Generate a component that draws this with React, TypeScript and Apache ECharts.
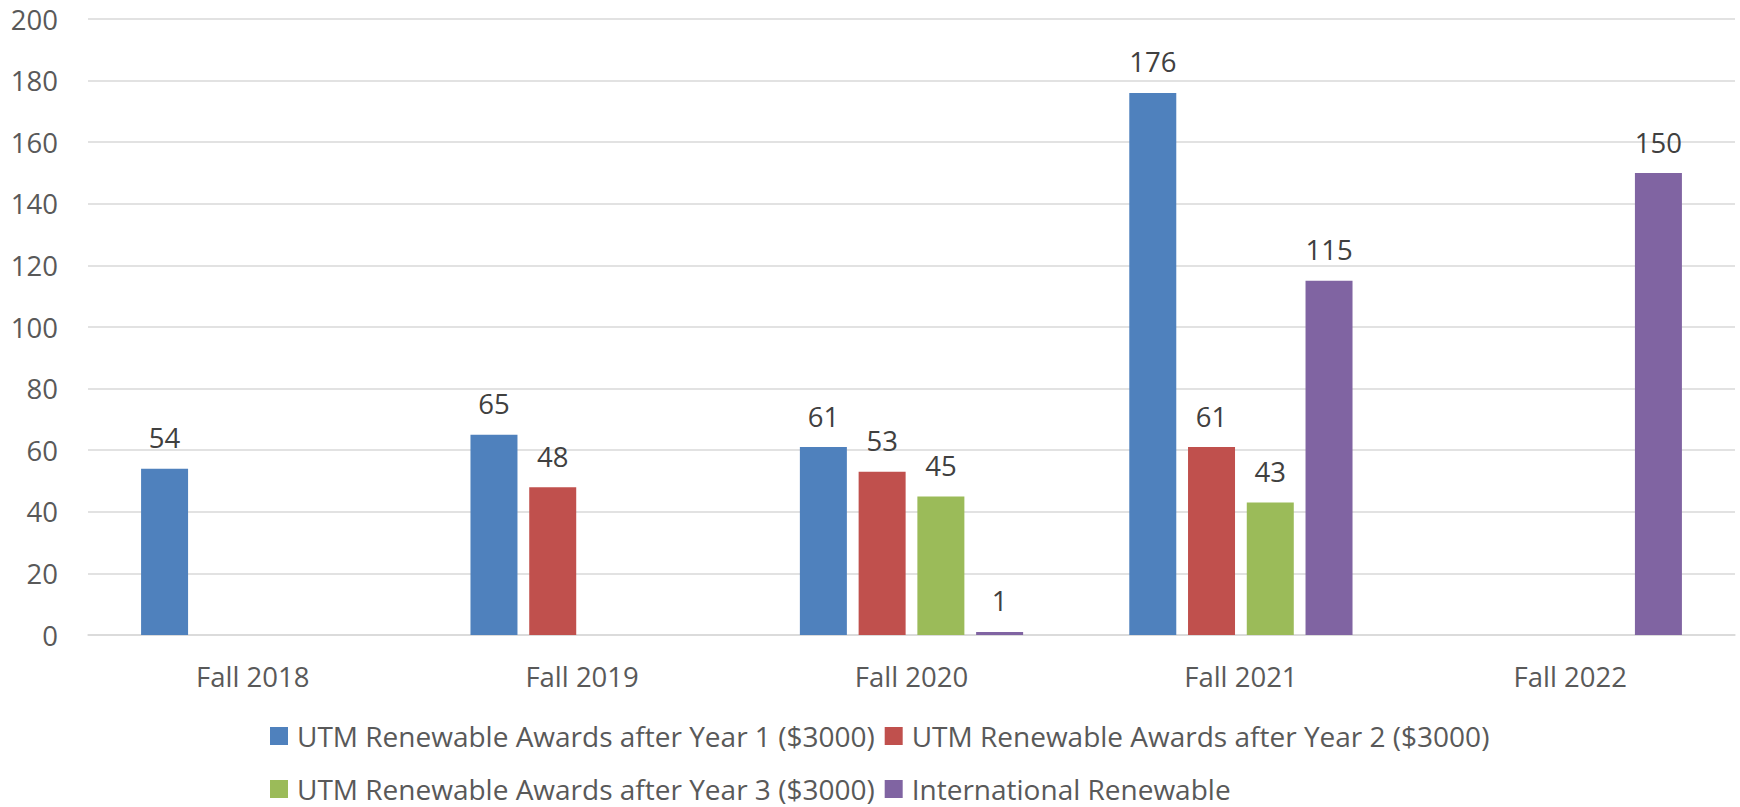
import React, { useEffect, useRef } from "react";
import * as echarts from "echarts";

const categories = ["Fall 2018", "Fall 2019", "Fall 2020", "Fall 2021", "Fall 2022"];
const seriesNames = [
  "UTM Renewable Awards after Year 1 ($3000)",
  "UTM Renewable Awards after Year 2 ($3000)",
  "UTM Renewable Awards after Year 3 ($3000)",
  "International Renewable",
];
const year1 = [54, 65, 61, 176, null];
const year2 = [null, 48, 53, 61, null];
const year3 = [null, null, 45, 43, null];
const international = [null, null, 1, 115, 150];
const colors = ["#4F81BD", "#C0504D", "#9BBB59", "#8064A2"];
const yTicks = { min: 0, max: 200, interval: 20 };

const FONT = "Open Sans";

export default function App() {
  const ref = useRef<HTMLDivElement>(null);
  useEffect(() => {
    if (!ref.current) return;
    const chart = echarts.init(ref.current, null, { renderer: "svg" });
    const values = [year1, year2, year3, international];
    const legendCommon = {
      left: 270,
      itemWidth: 18,
      itemHeight: 18,
      itemGap: 10,
      icon: "rect",
      padding: 0,
      textStyle: {
        fontFamily: FONT,
        fontSize: 28,
        lineHeight: 28,
        color: "#595959",
        padding: [0, 0, 0, 4],
      },
    };
    chart.setOption({
      animation: false,
      backgroundColor: "#ffffff",
      textStyle: { fontFamily: FONT },
      grid: { left: 88, right: 5, top: 19, bottom: 172, containLabel: false },
      legend: [
        { ...legendCommon, top: 722, data: [seriesNames[0], seriesNames[1]] },
        { ...legendCommon, top: 775, data: [seriesNames[2], seriesNames[3]] },
      ],
      xAxis: {
        type: "category",
        data: categories,
        axisLine: { show: true, lineStyle: { color: "#D9D9D9", width: 1.5 } },
        axisTick: { show: false },
        axisLabel: {
          fontFamily: FONT,
          fontSize: 27.5,
          color: "#595959",
          margin: 26,
          lineHeight: 30,
        },
      },
      yAxis: {
        type: "value",
        min: yTicks.min,
        max: yTicks.max,
        interval: yTicks.interval,
        axisLine: { show: false },
        axisTick: { show: false },
        splitLine: { lineStyle: { color: "#D9D9D9", width: 1.5 } },
        axisLabel: {
          fontFamily: FONT,
          fontSize: 27.5,
          color: "#595959",
          margin: 30,
        },
      },
      series: seriesNames.map((name, i) => ({
        name,
        type: "bar",
        data: values[i],
        barWidth: 47,
        barGap: "25%",
        itemStyle: { color: colors[i] },
        label: {
          show: true,
          position: "top",
          distance: 16,
          fontFamily: FONT,
          fontSize: 27.5,
          lineHeight: 30,
          color: "#404040",
        },
      })),
    });
    return () => chart.dispose();
  }, []);
  return (
    <div
      ref={ref}
      style={{ position: "fixed", left: 0, top: 0, width: 1740, height: 807 }}
    />
  );
}
